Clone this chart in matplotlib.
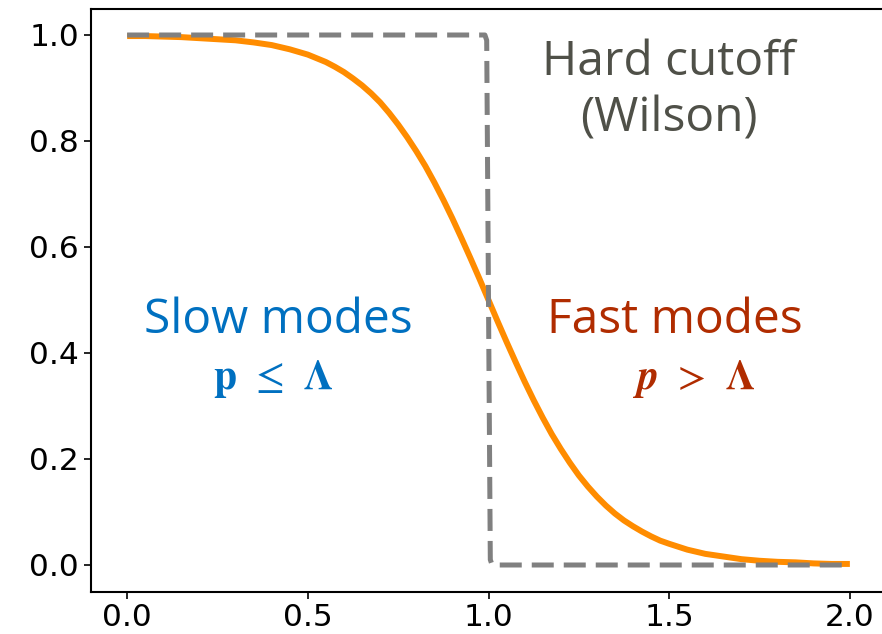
import matplotlib
matplotlib.use("Agg")
import matplotlib.pyplot as plt

# Momentum grid and smooth regulator values
p_vals = [0.00, 0.05, 0.10, 0.15, 0.20, 0.25, 0.30, 0.35, 0.40, 0.45,
          0.500, 0.525, 0.550, 0.575, 0.600, 0.625, 0.650, 0.675, 0.700, 0.725,
          0.750, 0.775, 0.800, 0.825, 0.850, 0.875, 0.900, 0.925, 0.950, 0.975,
          1.000, 1.025, 1.050, 1.075, 1.100, 1.125, 1.150, 1.175, 1.200, 1.225,
          1.250, 1.275, 1.300, 1.325, 1.350, 1.375, 1.400, 1.425, 1.450, 1.475,
          1.50, 1.55, 1.60, 1.65, 1.70, 1.75, 1.80, 1.85, 1.90, 1.95, 2.00]
smooth_vals = [0.998, 0.998, 0.997, 0.996, 0.994, 0.992, 0.990, 0.986, 0.981, 0.973,
               0.963, 0.956, 0.949, 0.940, 0.930, 0.918, 0.905, 0.890, 0.873, 0.853,
               0.831, 0.807, 0.781, 0.753, 0.722, 0.689, 0.654, 0.617, 0.579, 0.540,
               0.500, 0.460, 0.421, 0.383, 0.346, 0.311, 0.278, 0.247, 0.219, 0.193,
               0.169, 0.148, 0.129, 0.112, 0.097, 0.084, 0.073, 0.063, 0.054, 0.046,
               0.040, 0.029, 0.021, 0.016, 0.011, 0.008, 0.006, 0.005, 0.003, 0.002, 0.002]

# Sharp (Wilson) cutoff
hard_p = [0.0, 0.99, 0.995, 1.0, 1.005, 1.01, 2.0]
hard_vals = [1.0, 1.0, 0.99, 0.5, 0.01, 0.0, 0.0]

xticks = [0.0, 0.5, 1.0, 1.5, 2.0]
yticks = [0.0, 0.2, 0.4, 0.6, 0.8, 1.0]

plt.rcParams['mathtext.fontset'] = 'stix'

fig = plt.figure(figsize=(8.82, 6.34), dpi=100)
ax = fig.add_axes([91 / 882, 1 - 591.5 / 634, 795 / 882, 583 / 634])

ax.plot(p_vals, smooth_vals, color='darkorange', lw=4.3, solid_capstyle='butt')
ax.plot(hard_p, hard_vals, color='gray', lw=3.6, dashes=(4.4, 2.0))

ax.set_xticks(xticks)
ax.set_yticks(yticks)
ax.set_xticklabels([f"{t:.1f}" for t in xticks])
ax.set_yticklabels([f"{t:.1f}" for t in yticks])
ax.tick_params(labelsize=22.5, width=1.2, length=5)
for s in ax.spines.values():
    s.set_linewidth(1.5)

txt_font = ['Open Sans', 'DejaVu Sans']
grey_txt = '#4f5048'
blue_txt = '#0070c0'
red_txt = '#b02c00'
label_size = 34.5
math_size = 30

ax.text(1.50, 0.924, "Hard cutoff", ha='center', va='baseline',
        fontsize=label_size, color=grey_txt, family=txt_font)
ax.text(1.50, 0.818, "(Wilson)", ha='center', va='baseline',
        fontsize=label_size, color=grey_txt, family=txt_font)

ax.text(0.418, 0.438, "Slow modes", ha='center', va='baseline',
        fontsize=label_size, color=blue_txt, family=txt_font)
ax.text(0.404, 0.332, r"$\mathbf{p}\;\,\leq\;\,\mathbf{\Lambda}$", ha='center', va='baseline',
        fontsize=math_size, color=blue_txt)

ax.text(1.516, 0.438, "Fast modes", ha='center', va='baseline',
        fontsize=label_size, color=red_txt, family=txt_font)
ax.text(1.566, 0.332, r"$\mathbfit{p}\;\,>\;\,\mathbf{\Lambda}$", ha='center', va='baseline',
        fontsize=math_size, color=red_txt)

fig.savefig("out.png", dpi=100)
